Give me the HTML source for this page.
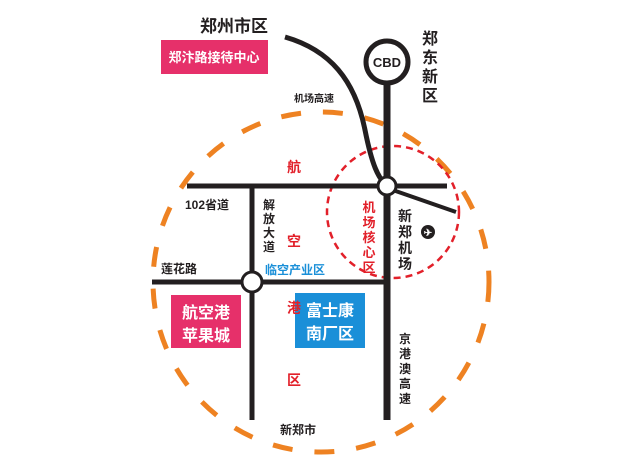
<!DOCTYPE html>
<html><head><meta charset="utf-8"><style>
body{margin:0;background:#fff;}
svg text{font-family:"Liberation Sans","Noto Sans CJK SC",sans-serif;font-weight:bold;}
</style></head><body>
<svg width="620" height="470" viewBox="0 0 620 470" xmlns="http://www.w3.org/2000/svg">
<rect width="620" height="470" fill="#fff"/>
<ellipse cx="321" cy="282" rx="168" ry="170" fill="none" stroke="#ee8222" stroke-width="5" stroke-dasharray="20 22"/>
<circle cx="393" cy="212" r="66" fill="none" stroke="#e2202a" stroke-width="2.5" stroke-dasharray="7 5"/>
<path d="M285 37 C 330 50, 355 80, 365 130 C 372 165, 378 178, 387 186" fill="none" stroke="#231f20" stroke-width="5"/>
<line x1="387" y1="80" x2="387" y2="420" stroke="#231f20" stroke-width="7"/>
<line x1="187" y1="186" x2="447" y2="186" stroke="#231f20" stroke-width="5"/>
<line x1="387" y1="188" x2="456" y2="212" stroke="#231f20" stroke-width="4"/>
<line x1="252" y1="186" x2="252" y2="420" stroke="#231f20" stroke-width="5"/>
<line x1="152" y1="282" x2="387" y2="282" stroke="#231f20" stroke-width="5"/>
<circle cx="387" cy="62" r="21" fill="#fff" stroke="#231f20" stroke-width="5"/>
<text x="387" y="67" font-size="13" text-anchor="middle" fill="#231f20">CBD</text>
<circle cx="387" cy="186" r="9" fill="#fff" stroke="#231f20" stroke-width="3"/>
<circle cx="252" cy="282" r="10" fill="#fff" stroke="#231f20" stroke-width="3"/>
<rect x="161" y="40" width="107" height="34" fill="#e6306a"/>
<text x="214" y="62" font-size="13" text-anchor="middle" fill="#fff">郑汴路接待中心</text>
<rect x="171" y="295" width="70" height="53" fill="#e6306a"/>
<text x="206" y="318" font-size="16" text-anchor="middle" fill="#fff">航空港</text>
<text x="206" y="341" font-size="16" text-anchor="middle" fill="#fff">苹果城</text>
<rect x="295" y="293" width="70" height="55" fill="#1a8fd8"/>
<text x="330" y="316" font-size="16" text-anchor="middle" fill="#fff">富士康</text>
<text x="330" y="339" font-size="16" text-anchor="middle" fill="#fff">南厂区</text>
<text x="200" y="32" font-size="17" fill="#231f20">郑州市区</text>
<g font-size="16" fill="#231f20" text-anchor="middle">
<text x="430" y="44">郑</text><text x="430" y="63">东</text><text x="430" y="82">新</text><text x="430" y="101">区</text>
</g>
<text x="294" y="102" font-size="10" fill="#231f20">机场高速</text>
<g font-size="14" fill="#e2202a" text-anchor="middle">
<text x="294" y="172">航</text><text x="294" y="246">空</text><text x="294" y="313">港</text><text x="294" y="385">区</text>
</g>
<text x="185" y="209" font-size="12" fill="#231f20">102省道</text>
<g font-size="12" fill="#231f20" text-anchor="middle">
<text x="269" y="209">解</text><text x="269" y="223">放</text><text x="269" y="237">大</text><text x="269" y="251">道</text>
</g>
<text x="265" y="274" font-size="12" fill="#1a8fd8">临空产业区</text>
<text x="161" y="273" font-size="12" fill="#231f20">莲花路</text>
<g font-size="13" fill="#e2202a" text-anchor="middle">
<text x="369" y="212">机</text><text x="369" y="227">场</text><text x="369" y="242">核</text><text x="369" y="257">心</text><text x="369" y="272">区</text>
</g>
<g font-size="14" fill="#231f20" text-anchor="middle">
<text x="405" y="221">新</text><text x="405" y="237">郑</text><text x="405" y="253">机</text><text x="405" y="269">场</text>
</g>
<circle cx="428" cy="232" r="7" fill="#231f20"/>
<text x="428" y="236" font-size="10" fill="#fff" text-anchor="middle">✈</text>
<g font-size="12" fill="#231f20" text-anchor="middle">
<text x="405" y="343">京</text><text x="405" y="358">港</text><text x="405" y="373">澳</text><text x="405" y="388">高</text><text x="405" y="403">速</text>
</g>
<text x="280" y="434" font-size="12" fill="#231f20">新郑市</text>
</svg>
</body></html>
